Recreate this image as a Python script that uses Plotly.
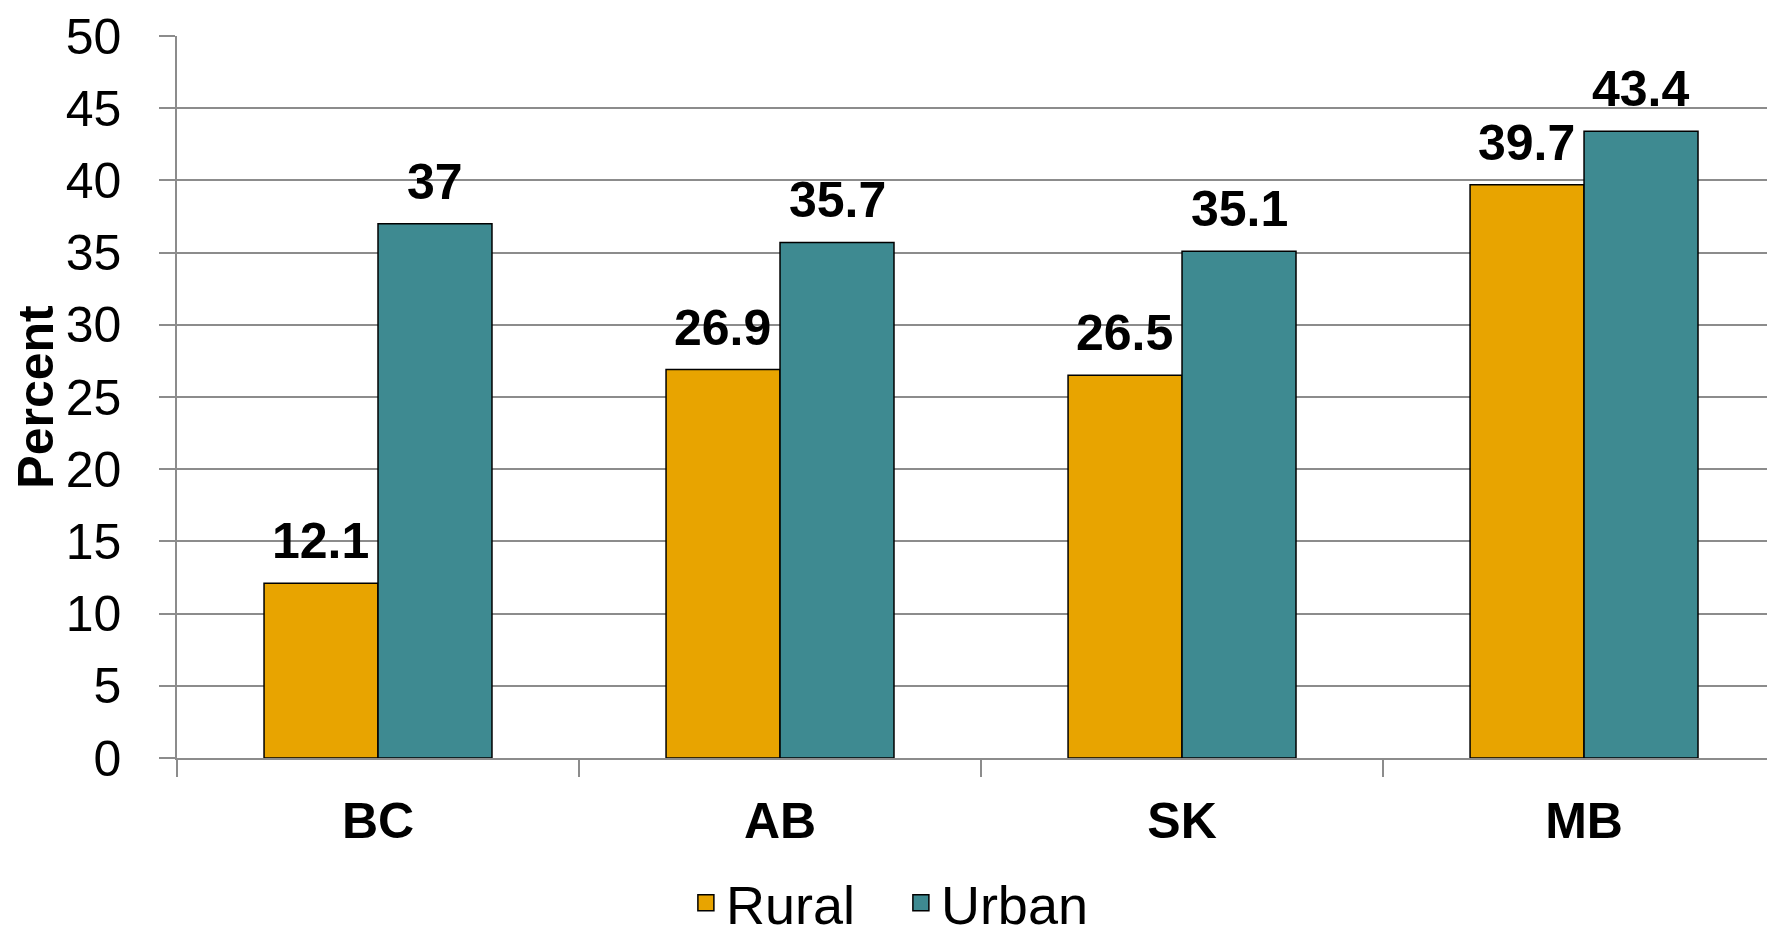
import plotly.graph_objects as go

categories = ["BC", "AB", "SK", "MB"]
rural = [12.1, 26.9, 26.5, 39.7]
urban = [37, 35.7, 35.1, 43.4]
y_ticks = [0, 5, 10, 15, 20, 25, 30, 35, 40, 45, 50]

RURAL_C = "#E8A400"
URBAN_C = "#3E8A91"
GRID_C = "#8C8C8C"
FONT = "Liberation Sans, Arial, sans-serif"

fig = go.Figure()
fig.add_trace(go.Bar(name="Rural", x=categories, y=rural, marker=dict(color=RURAL_C, line=dict(color="black", width=1.5)), showlegend=False))
fig.add_trace(go.Bar(name="Urban", x=categories, y=urban, marker=dict(color=URBAN_C, line=dict(color="black", width=1.5)), showlegend=False))

# legend entries
for name, col in [("Rural", RURAL_C), ("Urban", URBAN_C)]:
    fig.add_trace(go.Scatter(x=[None], y=[None], mode="markers", name=name,
                             marker=dict(symbol="square", size=24, color=col, line=dict(color="black", width=1.5))))

# data labels
for i, c in enumerate(categories):
    for off, vals in [(-0.142, rural), (0.142, urban)]:
        fig.add_annotation(x=i + off, y=vals[i], xref="x", yref="y", text=f"<b>{vals[i]:g}</b>",
                           showarrow=False, yanchor="bottom", yshift=12,
                           font=dict(size=50, color="black", family=FONT))

fig.update_layout(
    width=1775, height=926,
    margin=dict(l=169, r=8, t=28, b=175.5, autoexpand=False),
    paper_bgcolor="white", plot_bgcolor="white",
    barmode="group", bargap=0.433, bargroupgap=0,
    font=dict(family=FONT, size=50, color="black"),
    legend=dict(orientation="h", x=0.453, xanchor="center", y=-0.201, yanchor="middle",
                font=dict(size=54), itemsizing="trace", tracegroupgap=0, entrywidth=170),
    xaxis=dict(range=[-0.5, 3.475], showline=True, linecolor=GRID_C, linewidth=1.5,
               ticks="outside", tickson="boundaries", ticklen=17, tickcolor=GRID_C, tickwidth=1.5,
               tickfont=dict(size=50, family=FONT), showgrid=False, automargin=False,
               tickprefix="<b>", ticksuffix="</b>", ticklabelstandoff=18),
    yaxis=dict(range=[0, 50], tickvals=y_ticks, showline=True, linecolor=GRID_C, linewidth=1.5,
               ticks="outside", ticklen=16, tickcolor=GRID_C, tickwidth=1.5,
               gridcolor=GRID_C, gridwidth=1.5, zeroline=False, automargin=False,
               tickfont=dict(size=50, family=FONT), ticklabelstandoff=28,
               title=dict(text="<b>Percent</b>", font=dict(size=50, family=FONT), standoff=14)),
)

fig.write_html("out.html")
